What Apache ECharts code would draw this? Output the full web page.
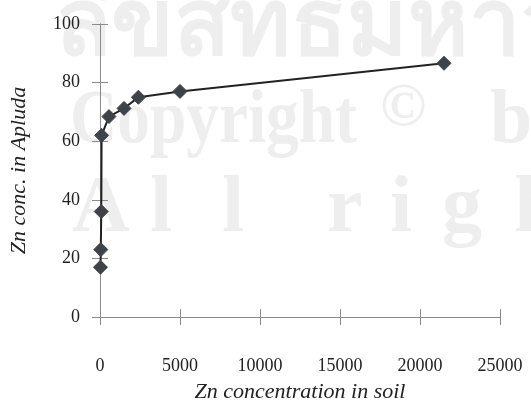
<!DOCTYPE html>
<html><head><meta charset="utf-8">
<script src="https://cdn.jsdelivr.net/npm/echarts@6/dist/echarts.min.js"></script>
<style>html,body{margin:0;padding:0;background:#fff}#c{width:531px;height:408px}</style>
</head><body><div id="c"></div>
<script>
const soilZn = [30, 50, 80, 100, 560, 1500, 2400, 5000, 21500];
const apludaZn = [17, 23, 36, 62, 68.4, 71.2, 75, 77, 86.6];
const xTicks = [0, 5000, 10000, 15000, 20000, 25000];
const yTicks = [0, 20, 40, 60, 80, 100];
const xTitle = 'Zn concentration in soil';
const yTitle = 'Zn conc. in Apluda';

const chart = echarts.init(document.getElementById('c'));
const font = '"Liberation Serif", "DejaVu Serif", serif';
const axisLine = {show: true, lineStyle: {color: '#8a8a8a', width: 1}};
const xBase = {type: 'value', min: xTicks[0], max: xTicks[xTicks.length-1], interval: 5000, splitLine: {show: false}};
const yBase = {type: 'value', min: yTicks[0], max: yTicks[yTicks.length-1], interval: 20, splitLine: {show: false}};
function wmText(t, x, y, size, fam) {
  return {type: 'text', x: x, y: y, z: -10, silent: true,
    style: {text: t, fontSize: size, fill: '#eeeeee', fontFamily: fam || font, fontWeight: 'bold', textVerticalAlign: 'bottom'}};
}
const wmCopy = wmText('Copyright', 70, 160, 76); wmCopy.scaleX = 0.86;
chart.setOption({
  backgroundColor: '#fff',
  animation: false,
  grid: {left: 97, right: 31, top: 24, bottom: 91},
  graphic: [
    wmText('ลิขสิทธิ์มหาวิทยาลัยเชียงใหม่', 55, 74, 92, '"Noto Sans", "DejaVu Sans", sans-serif'),
    wmCopy,
    wmText('©', 380, 140, 62),
    wmText('by', 490, 160, 76),
    wmText('A', 72, 250, 80),
    wmText('l', 150, 250, 80),
    wmText('l', 222, 250, 80),
    wmText('r', 327, 250, 80),
    wmText('i', 390, 250, 80),
    wmText('g', 442, 250, 80),
    wmText('h', 514, 250, 80)
  ],
  xAxis: [
    Object.assign({}, xBase, {
      position: 'bottom',
      axisLine: axisLine,
      axisTick: {show: true, inside: false, length: 8, lineStyle: {color: '#8a8a8a'}},
      axisLabel: {margin: 40, color: '#222', fontSize: 18, fontFamily: font, formatter: v => String(v)},
      name: xTitle, nameLocation: 'middle', nameGap: 64,
      nameTextStyle: {fontSize: 22, fontStyle: 'italic', color: '#222', fontFamily: font}
    }),
    Object.assign({}, xBase, {
      position: 'bottom',
      axisLine: axisLine,
      axisTick: {show: true, inside: true, length: 8, lineStyle: {color: '#8a8a8a'}},
      axisLabel: {show: false}
    })
  ],
  yAxis: [
    Object.assign({}, yBase, {
      position: 'left',
      axisLine: axisLine,
      axisTick: {show: true, inside: false, length: 8, lineStyle: {color: '#8a8a8a'}},
      axisLabel: {margin: 20, color: '#222', fontSize: 18, fontFamily: font},
      name: yTitle, nameLocation: 'middle', nameGap: 70,
      nameTextStyle: {fontSize: 22, fontStyle: 'italic', color: '#222', fontFamily: font}
    }),
    Object.assign({}, yBase, {
      position: 'left',
      axisLine: axisLine,
      axisTick: {show: true, inside: true, length: 8, lineStyle: {color: '#8a8a8a'}},
      axisLabel: {show: false}
    })
  ],
  series: [{
    type: 'line',
    data: soilZn.map((x, i) => [x, apludaZn[i]]),
    symbol: 'diamond',
    symbolSize: 14,
    lineStyle: {color: '#222', width: 2},
    itemStyle: {color: '#3e4349', borderColor: '#3e4349'}
  }]
});
</script></body></html>
